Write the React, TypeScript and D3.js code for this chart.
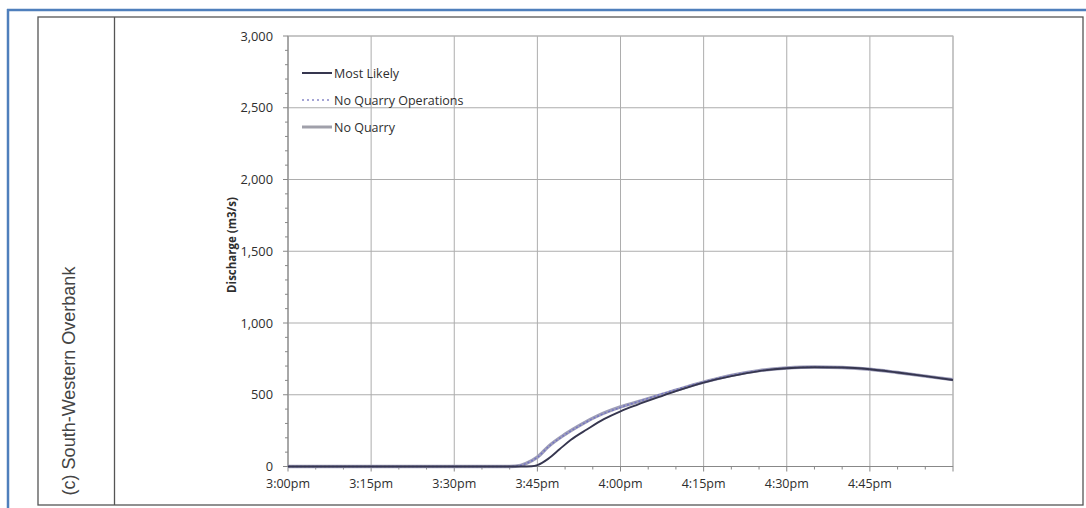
import React from "react";
import * as d3 from "d3";

// minutes after 3:00pm
const mlTimes = [0, 30, 42, 44, 45, 47, 49, 51, 54, 57, 60, 63, 67, 70, 75, 80, 85, 90, 95, 100, 105, 110, 115, 120];
const mostLikely = [0, 0, 0, 2, 10, 55, 120, 185, 260, 330, 385, 430, 485, 525, 585, 630, 665, 685, 692, 690, 678, 655, 630, 603];

const nqTimes = [0, 30, 40, 42, 43, 45, 47, 50, 53, 56, 60, 64, 68, 72, 76, 80, 85, 90, 95, 100, 105, 110, 115, 120];
const noQuarry = [0, 0, 0, 8, 22, 65, 140, 225, 295, 355, 415, 460, 508, 555, 598, 635, 668, 686, 693, 690, 678, 655, 630, 605];
const noQuarryOps = [0, 0, 0, 8, 22, 64, 138, 222, 292, 352, 412, 462, 512, 558, 600, 636, 668, 686, 693, 690, 678, 655, 630, 605];

const xTickMinutes = [0, 15, 30, 45, 60, 75, 90, 105];
const xTickLabels = ["3:00pm", "3:15pm", "3:30pm", "3:45pm", "4:00pm", "4:15pm", "4:30pm", "4:45pm"];
const yTicks = [0, 500, 1000, 1500, 2000, 2500, 3000];
const legendLabels = ["Most Likely", "No Quarry Operations", "No Quarry"];

const FONT = "'Open Sans', sans-serif";

export default function App() {
  const left = 288, right = 953, top = 36, bottom = 466.5;
  const x = d3.scaleLinear().domain([0, 120]).range([left, right]);
  const y = d3.scaleLinear().domain([0, 3000]).range([bottom, top]);

  const mkLine = (times: number[]) =>
    d3.line<number>().x((_, i) => x(times[i])).y((d) => y(d)).curve(d3.curveMonotoneX);

  const minorX = d3.range(0, 121, 5);
  const minorY = d3.range(0, 3001, 100);
  const gridX = [...xTickMinutes, 120];

  const legendY = [73, 100, 127];

  return (
    <svg
      width={1086}
      height={508}
      style={{ position: "absolute", left: 0, top: 0, background: "#fff" }}
    >
      {/* outer frame */}
      <line x1={7} y1={10} x2={1086} y2={10} stroke="#4f7fbc" strokeWidth={2.5} />
      <line x1={8} y1={9} x2={8} y2={508} stroke="#4f7fbc" strokeWidth={2.5} />
      <rect x={38} y={17} width={1045} height={488} fill="none" stroke="#555" strokeWidth={1.3} />
      <line x1={114.5} y1={17} x2={114.5} y2={505} stroke="#555" strokeWidth={1.3} />

      <text
        transform={`translate(75,${381}) rotate(-90)`}
        textAnchor="middle"
        fontFamily="'Liberation Sans', Arial, sans-serif"
        fontSize={18}
        fill="#444"
      >
        (c) South-Western Overbank
      </text>

      {/* grid */}
      {yTicks.map((v) => (
        <line key={"gy" + v} x1={left} x2={right} y1={y(v)} y2={y(v)} stroke="#adadad" strokeWidth={1} />
      ))}
      {gridX.map((m) => (
        <line key={"gx" + m} x1={x(m)} x2={x(m)} y1={top} y2={bottom} stroke="#adadad" strokeWidth={1} />
      ))}
      <rect x={left} y={top} width={right - left} height={bottom - top} fill="none" stroke="#b8b8b8" strokeWidth={1} />

      {/* axes */}
      <line x1={left} x2={left} y1={top} y2={bottom} stroke="#888" strokeWidth={1} />
      <line x1={left} x2={right} y1={bottom} y2={bottom} stroke="#888" strokeWidth={1} />
      {minorY.map((v) => (
        <line key={"my" + v} x1={left - (v % 500 === 0 ? 5 : 3)} x2={left} y1={y(v)} y2={y(v)} stroke="#888" strokeWidth={1} />
      ))}
      {minorX.map((m) => (
        <line key={"mx" + m} x1={x(m)} x2={x(m)} y1={bottom} y2={bottom + (m % 15 === 0 ? 5 : 3)} stroke="#888" strokeWidth={1} />
      ))}

      {yTicks.map((v) => (
        <text key={"yl" + v} x={273} y={y(v) + 4.5} textAnchor="end" fontFamily={FONT} fontSize={12.8} fill="#2e2e2e">
          {d3.format(",")(v)}
        </text>
      ))}
      {xTickMinutes.map((m, i) => (
        <text key={"xl" + m} x={x(m)} y={488} textAnchor="middle" fontFamily={FONT} fontSize={12.5} fill="#2e2e2e">
          {xTickLabels[i]}
        </text>
      ))}

      <text
        transform={`translate(236,245) rotate(-90)`}
        textAnchor="middle"
        fontFamily={FONT}
        fontWeight="bold"
        fontSize={11.5}
        fill="#2e2e2e"
      >
        Discharge (m3/s)
      </text>

      {/* series */}
      <path d={mkLine(nqTimes)(noQuarry) || ""} fill="none" stroke="#9e9eb8" strokeWidth={3.4} />
      <path d={mkLine(nqTimes)(noQuarryOps) || ""} fill="none" stroke="#7474c4" strokeWidth={1.5} strokeDasharray="2,2" />
      <path d={mkLine(mlTimes)(mostLikely) || ""} fill="none" stroke="#36364f" strokeWidth={1.9} />

      {/* legend */}
      <line x1={302} x2={332} y1={legendY[0]} y2={legendY[0]} stroke="#36364f" strokeWidth={2} />
      <line x1={302} x2={332} y1={legendY[1]} y2={legendY[1]} stroke="#8888c8" strokeWidth={1.7} strokeDasharray="2,3" />
      <line x1={302} x2={332} y1={legendY[2]} y2={legendY[2]} stroke="#a0a0aa" strokeWidth={3} />
      {legendLabels.map((t, i) => (
        <text key={t} x={334} y={legendY[i] + 4.5} fontFamily={FONT} fontSize={12.5} fill="#2e2e2e">
          {t}
        </text>
      ))}
    </svg>
  );
}
